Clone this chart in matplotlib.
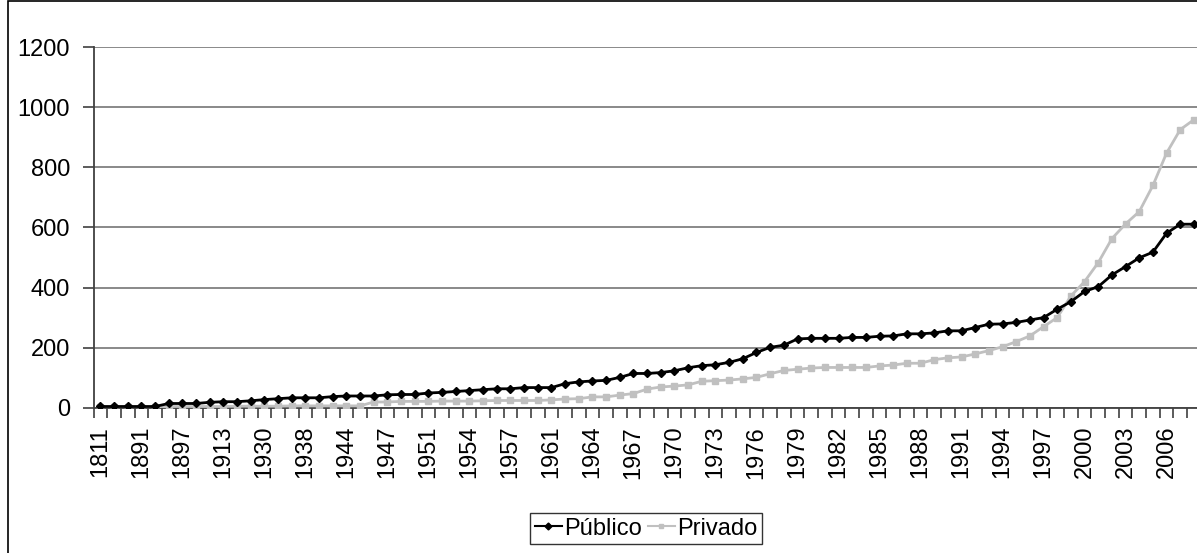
import matplotlib
matplotlib.use("Agg")
import matplotlib.pyplot as plt
from matplotlib.patches import Rectangle
from matplotlib.ticker import FixedLocator, MultipleLocator

plt.rcParams["font.family"] = ["Liberation Sans", "DejaVu Sans"]

# Year labels shown on the category axis (every third category)
tick_labels = ["1811", "1891", "1897", "1913", "1930", "1938", "1944", "1947",
               "1951", "1954", "1957", "1961", "1964", "1967", "1970", "1973",
               "1976", "1979", "1982", "1985", "1988", "1991", "1994", "1997",
               "2000", "2003", "2006"]

publico = [4, 4, 4, 4, 4, 14, 14, 14, 18, 20, 20, 23, 27, 30, 33, 33, 33,
           37, 39, 39, 39, 43, 44, 44, 49, 51, 54, 57, 60, 63, 63, 67, 67, 67, 80,
           86, 89, 91, 101, 114, 114, 117, 123, 133, 140, 143, 151, 163, 184, 201, 208, 229,
           231, 231, 231, 234, 234, 238, 239, 246, 246, 249, 256, 256, 267, 278, 279, 284,
           292, 300, 328, 353, 387, 403, 442, 470, 499, 518, 581, 611, 611]

privado = [2, 2, 2, 2, 2, 4, 4, 4, 4, 4, 5, 5, 5, 5, 6, 6, 6, 6, 6, 6,
           19, 19, 21, 21, 21, 22, 22, 22, 23, 24, 24, 24, 24, 26, 29,
           30, 36, 36, 42, 47, 62, 69, 72, 76, 88, 90, 92, 96, 101, 113, 124, 128,
           132, 134, 134, 134, 134, 139, 142, 148, 148, 160, 166, 169, 179, 190, 203, 220,
           239, 270, 300, 372, 420, 483, 563, 612, 653, 740, 848, 926, 959]

W, H = 1197, 553
fig = plt.figure(figsize=(W / 100, H / 100), dpi=100)

n = len(publico)
left_px, cat_w = 93.5, 13.67
bottom_px, top_px = 407.7, 47.3
ax = fig.add_axes([left_px / W, 1 - bottom_px / H,
                   n * cat_w / W, (bottom_px - top_px) / H])

x = list(range(n))
ax.plot(x, privado, color="#c0c0c0", lw=2, marker="s", ms=4.5,
        mec="#c0c0c0", mfc="#c0c0c0", label="Privado", zorder=3)
ax.plot(x, publico, color="black", lw=2, marker="D", ms=4.5,
        mec="black", mfc="black", label="Público", zorder=4)

ax.set_xlim(-0.5, n - 0.5)
ax.set_ylim(0, 1200)
ax.yaxis.set_major_locator(MultipleLocator(200))
ax.grid(axis="y", color="#808080", lw=1.3, zorder=1)
ax.set_axisbelow(True)

ax.xaxis.set_major_locator(FixedLocator(list(range(0, n, 3))))
ax.set_xticklabels(tick_labels, rotation=90, fontsize=17)
ax.xaxis.set_minor_locator(FixedLocator([i - 0.5 for i in range(n + 1)]))
ax.tick_params(axis="x", which="major", length=0, pad=13)
ax.tick_params(axis="x", which="minor", length=7, width=1.2, color="#404040",
               direction="out")
ax.tick_params(axis="y", length=8, width=1.2, color="#404040",
               labelsize=17, pad=9)

for s in ("top", "right"):
    ax.spines[s].set_visible(False)
for s in ("left", "bottom"):
    ax.spines[s].set_color("#404040")
    ax.spines[s].set_linewidth(1.3)

handles, labels = ax.get_legend_handles_labels()
leg = fig.legend(handles[::-1], labels[::-1], loc="upper center",
                 bbox_to_anchor=(646 / W, 1 - 513 / H), ncol=2,
                 fontsize=17, frameon=True, fancybox=False,
                 handlelength=1.15, handletextpad=0.1, columnspacing=0.25,
                 borderpad=0.2, borderaxespad=0)
leg.get_frame().set_edgecolor("black")
leg.get_frame().set_linewidth(1.0)
for h in leg.legend_handles:
    h.set_markersize(3.5)
    h.set_linewidth(1.5)

# Outer chart border
fig.patches.append(Rectangle((8 / W, -0.05), 1.2, 1 - 0.5 / H + 0.05,
                             transform=fig.transFigure, fill=False,
                             edgecolor="black", lw=1.2))

fig.savefig("out.png", dpi=100)
